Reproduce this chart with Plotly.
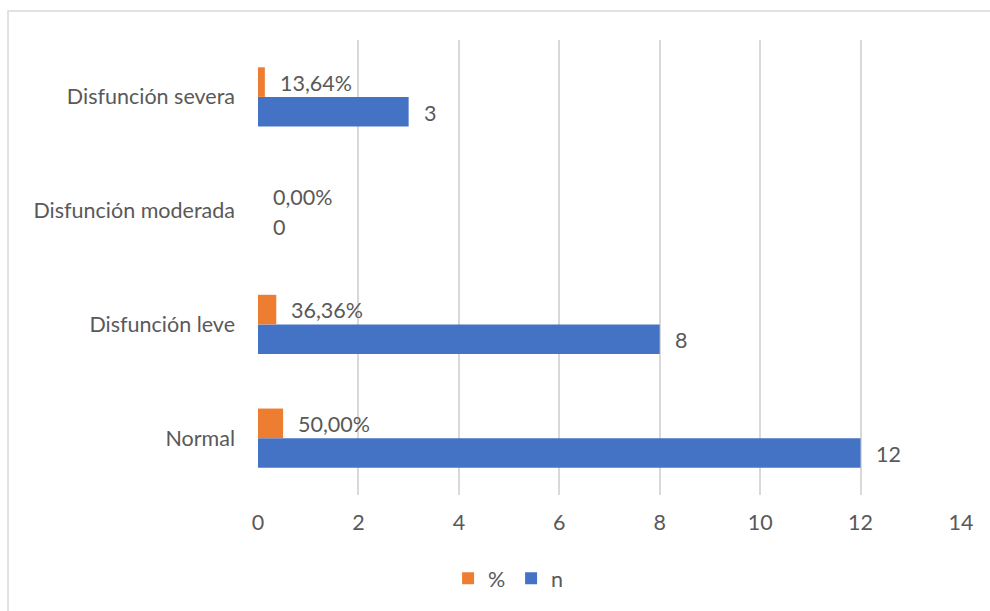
import plotly.graph_objects as go

categories = ["Normal", "Disfunción leve", "Disfunción moderada", "Disfunción severa"]
n_values = [12, 8, 0, 3]
pct_values = [0.5, 0.3636, 0.0, 0.1364]
pct_labels = ["50,00%", "36,36%", "0,00%", "13,64%"]
n_labels = ["12", "8", "0", "3"]
x_ticks = [0, 2, 4, 6, 8, 10, 12, 14]

BLUE = "#4472C4"
ORANGE = "#ED7D31"
TXT = "#595959"
GRID = "#D9D9D9"
FONT = "Lato"
FS = 21.5

fig = go.Figure()
fig.add_trace(go.Bar(y=categories, x=n_values, orientation="h", name="n",
                     marker=dict(color=BLUE, line=dict(width=0)), offsetgroup="n"))
fig.add_trace(go.Bar(y=categories, x=pct_values, orientation="h", name="%",
                     marker=dict(color=ORANGE, line=dict(width=0)), offsetgroup="p"))

annotations = []
for c, v, t in zip(categories, pct_values, pct_labels):
    annotations.append(dict(x=v, y=c, text=t, xref="x", yref="y", xanchor="left",
                            yanchor="middle", showarrow=False, xshift=13, yshift=14,
                            font=dict(family=FONT, size=FS, color=TXT)))
for c, v, t in zip(categories, n_values, n_labels):
    annotations.append(dict(x=v, y=c, text=t, xref="x", yref="y", xanchor="left",
                            yanchor="middle", showarrow=False, xshift=13, yshift=-16,
                            font=dict(family=FONT, size=FS, color=TXT)))

fig.update_layout(
    width=990, height=611,
    margin=dict(l=258, r=29, t=40, b=114),
    paper_bgcolor="white", plot_bgcolor="white",
    barmode="group", bargap=0.48, bargroupgap=0,
    font=dict(family=FONT, size=FS, color=TXT),
    xaxis=dict(range=[0, 14], tickvals=x_ticks, showgrid=True, gridcolor=GRID,
               gridwidth=2, zeroline=False, showline=False, ticks="",
               ticklabelstandoff=12,
               tickfont=dict(family=FONT, size=FS, color=TXT), fixedrange=True),
    yaxis=dict(categoryorder="array", categoryarray=categories, showgrid=False,
               zeroline=False, showline=False, ticks="", ticklabelstandoff=22,
               tickfont=dict(family=FONT, size=FS, color=TXT)),
    legend=dict(orientation="h", x=0.36, xanchor="center", y=-0.183, yanchor="middle",
                traceorder="reversed", entrywidth=18, itemwidth=30,
                font=dict(family=FONT, size=FS, color=TXT)),
    annotations=annotations,
    shapes=[dict(type="rect", xref="paper", yref="paper", x0=-0.3556, x1=1.2,
                 y0=-0.4, y1=1.0635, line=dict(color=GRID, width=1.5),
                 fillcolor="rgba(0,0,0,0)", layer="below")],
    showlegend=True,
)

fig.write_html("out.html")
